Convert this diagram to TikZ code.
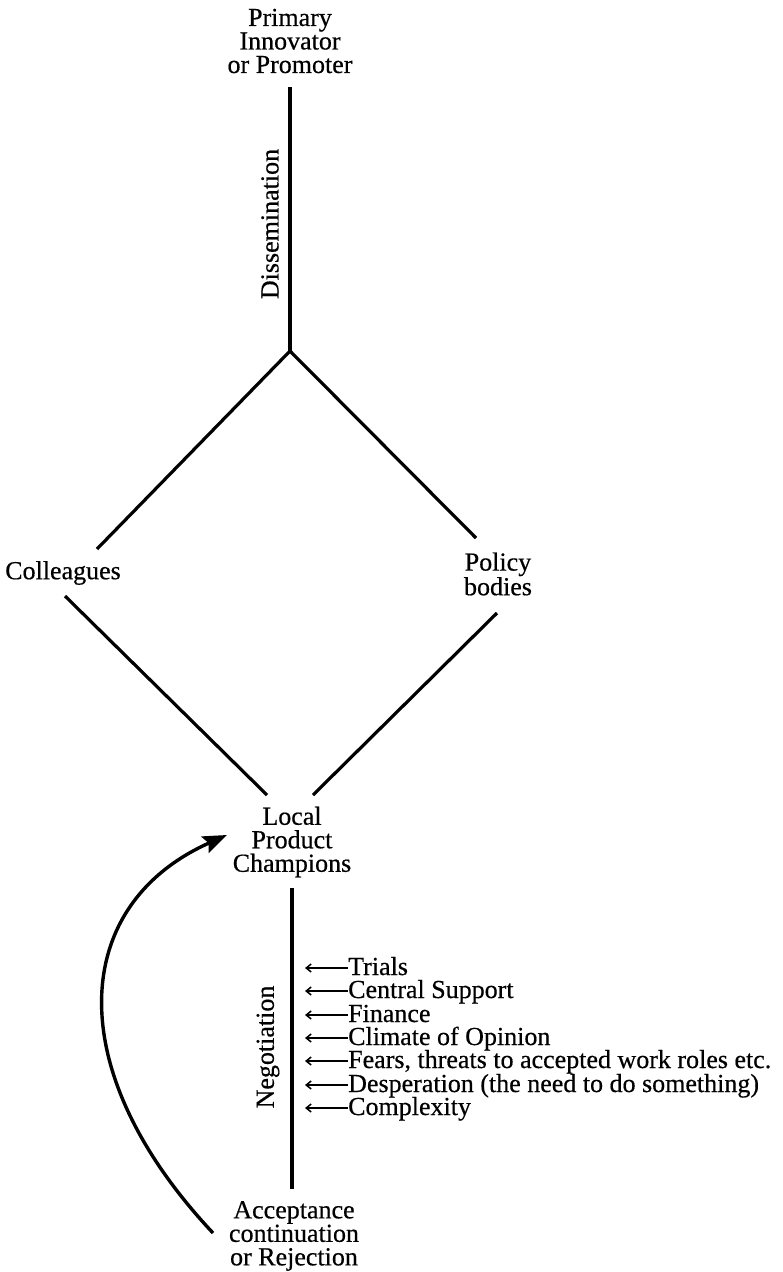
\documentclass[tikz,border=0pt]{standalone}
\usepackage{fontspec}
\setmainfont{Liberation Serif}[UprightFeatures={FakeBold=0.5}]
\usetikzlibrary{arrows.meta}
\begin{document}
\begin{tikzpicture}[x=1pt,y=-1pt,
  lbl/.style={font=\fontsize{26}{23.5}\selectfont, inner sep=0pt, align=center},
  item/.style={font=\fontsize{26}{23.5}\selectfont, inner sep=0pt, anchor=base west,
    text height=14pt, text depth=4pt},
  main/.style={line width=3.2pt},
  feed/.style={line width=1.5pt, -{Straight Barb[length=5pt,width=8pt]}},
  loop/.style={line width=3.4pt, -{Stealth[length=24pt,width=18pt,inset=4pt]}}
]
\useasboundingbox (0,0) rectangle (783,1272);
% labels
\node[lbl] (prim) at (290,41) {Primary\\Innovator\\or Promoter};
\node[lbl, rotate=90] (diss) at (270,224) {Dissemination};
\node[lbl] (coll) at (63,573) {Colleagues};
\node[lbl] (pol) at (498,574) {Policy\\bodies};
\node[lbl] (lpc) at (292,842) {Local\\Product\\Champions};
\node[lbl, rotate=90] (neg) at (268,1047) {Negotiation};
\node[lbl] (acc) at (294,1236) {Acceptance\\continuation\\or Rejection};
% line end points
\coordinate (dtop) at (290,87);
\coordinate (fork) at (290,351);
\coordinate (cu) at (97,549);
\coordinate (pu) at (476,538);
\coordinate (cl) at (65,596);
\coordinate (pl) at (497,613);
\coordinate (lcl) at (267,795);
\coordinate (lcr) at (313,795);
\coordinate (ntop) at (292,888);
\coordinate (nbot) at (292,1189);
\coordinate (ls) at (213,1233);
\coordinate (le) at (227,835);
% main lines
\draw[main] (dtop) -- (fork);
\draw[main] (fork) -- (cu);
\draw[main] (fork) -- (pu);
\draw[main] (cl) -- (lcl);
\draw[main] (pl) -- (lcr);
\draw[main] (ntop) -- (nbot);
% factors
\node[item] (f1) at (348,975) {Trials};
\node[item] (f2) at (348,998) {Central Support};
\node[item] (f3) at (348,1022) {Finance};
\node[item] (f4) at (348,1045) {Climate of Opinion};
\node[item] (f5) at (348,1068) {Fears, threats to accepted work roles etc.};
\node[item] (f6) at (348,1092) {Desperation (the need to do something)};
\node[item] (f7) at (348,1115) {Complexity};
\foreach \f in {f1,f2,f3,f4,f5,f6,f7}
  \draw[feed] ([yshift=7pt]\f.base west) -- ++(-43,0);
% feedback loop
\draw[loop] (ls) .. controls (60,1070) and (70,905) .. (le);
\end{tikzpicture}
\end{document}
